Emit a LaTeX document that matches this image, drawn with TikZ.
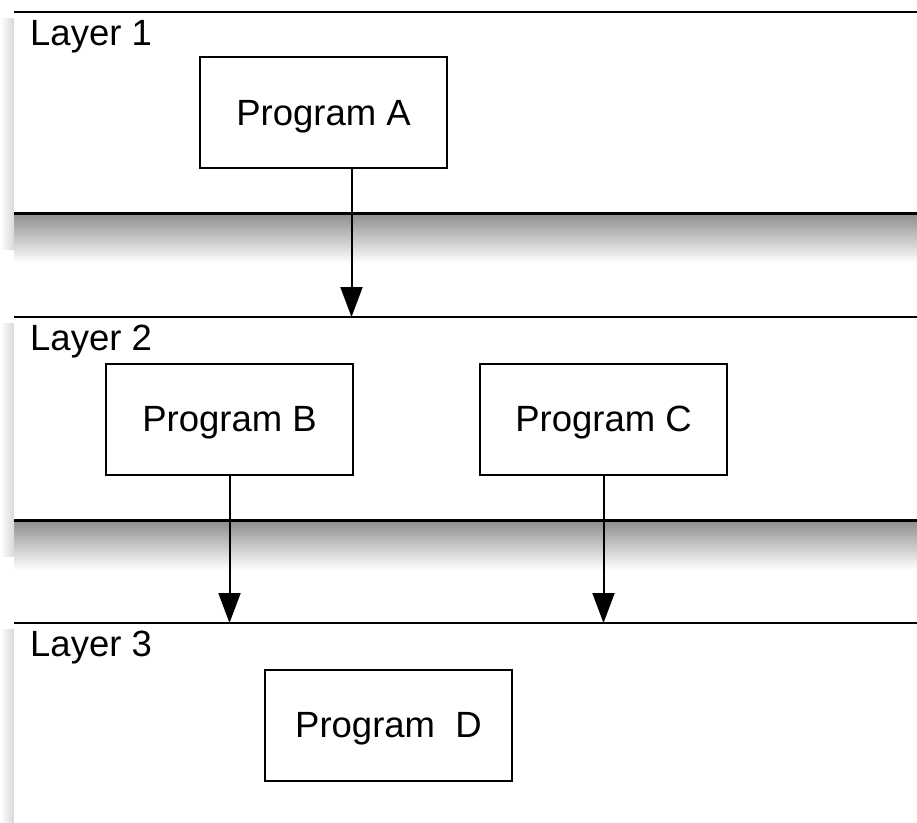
\documentclass[tikz,border=0pt]{standalone}
\usepackage{fontspec}
\setmainfont{Liberation Sans}
\usepackage{tikz}
\usetikzlibrary{arrows.meta,positioning}

\begin{document}
\begin{tikzpicture}[
  x=1pt,y=-1pt,
  layer/.style={fill=white,anchor=north west,inner sep=0pt,
                minimum width=920pt},
  prog/.style={draw,line width=2pt,fill=white,text depth=0pt,
               minimum width=247pt,minimum height=111pt,
               font=\fontsize{36.5}{44}\selectfont},
  tag/.style={anchor=base west,inner sep=0pt,
              font=\fontsize{36.5}{44}\selectfont},
  rim/.style={line width=2.4pt},
  call/.style={-{Triangle[length=30pt,width=22pt]},line width=2pt}
]
\useasboundingbox (0,0) rectangle (917,822);

% Schatten unter und links von den Schichten
\foreach \t/\b in {12/213,317/520}{
  \shade[top color=black!45,bottom color=white]
    (14,\b) rectangle (930,\b+50);
  \shade[left color=white,right color=black!15] (0,\t+6) rectangle (14,\b+36);
}
\shade[left color=white,right color=black!15] (0,629) rectangle (14,822);

% Schichten
\node[layer,minimum height=201pt] (L1) at (14,12)  {};
\node[layer,minimum height=203pt] (L2) at (14,317) {};
\node[layer,minimum height=220pt] (L3) at (14,623) {};

\draw[rim] (L1.north west) -- (L1.north east);
\draw[rim] (L1.south west) -- (L1.south east);
\draw[rim] (L2.north west) -- (L2.north east);
\draw[rim] (L2.south west) -- (L2.south east);
\draw[rim] (L3.north west) -- (L3.north east);

\node[tag] (t1) at (30,45)  {Layer 1};
\node[tag] (t2) at (30,350) {Layer 2};
\node[tag] (t3) at (30,656) {Layer 3};

% Programme
\node[prog] (pa) at (323.5,112.5) {Program A};
\node[prog] (pb) at (229.5,419)   {Program B};
\node[prog] (pc) at (603.5,419)   {Program C};
\node[prog] (pd) at (388.5,725)   {Program\ \ D};

% Aufrufe nach unten
\draw[call] ([xshift=28pt]pa.south) -- ([xshift=28pt]pa.south |- L2.north);
\draw[call] (pb.south) -- (pb.south |- L3.north);
\draw[call] (pc.south) -- (pc.south |- L3.north);

\end{tikzpicture}
\end{document}
